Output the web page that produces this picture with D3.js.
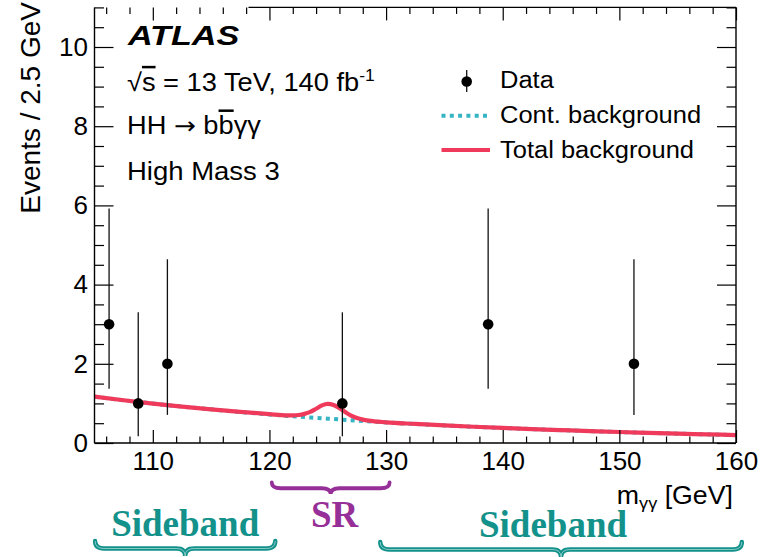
<!DOCTYPE html>
<html>
<head>
<meta charset="utf-8">
<script src="https://cdn.jsdelivr.net/npm/d3@7"></script>
<style>
  html, body { margin: 0; padding: 0; background: #fff; }
  svg { display: block; }
</style>
</head>
<body>
<svg id="chart" width="762" height="557" font-family="Liberation Sans, Arial, Helvetica, sans-serif"></svg>
<script>
// ---- data -------------------------------------------------------------
// Observed events per 2.5 GeV bin (bin centres in GeV) with asymmetric Poisson errors
const dataMass  = [106.25, 108.75, 111.25, 126.25, 138.75, 151.25];
const dataCount = [3, 1, 2, 1, 3, 2];
const dataErrLo = [1.63, 0.83, 1.29, 0.83, 1.63, 1.29];
const dataErrHi = [2.92, 2.30, 2.64, 2.30, 2.92, 2.64];

// Continuum background shape
const contMass  = [105, 107.5, 110, 112.5, 115, 117.5, 120, 122.5, 125, 127.5, 130,
                   132.5, 135, 137.5, 140, 142.5, 145, 147.5, 150, 152.5, 155, 157.5, 160];
const contValue = [1.17, 1.08, 0.995, 0.92, 0.85, 0.78, 0.72, 0.665, 0.615, 0.565, 0.52,
                   0.48, 0.445, 0.41, 0.38, 0.35, 0.325, 0.30, 0.278, 0.256, 0.236, 0.218, 0.20];

// Total background (continuum + single-Higgs peak)
const totalMass  = [105, 107.5, 110, 112.5, 115, 117.5,
                    120, 120.5, 121, 121.5, 122, 122.5, 123, 123.5, 124, 124.5, 125,
                    125.5, 126, 126.5, 127, 127.5, 128, 128.5, 129, 129.5, 130,
                    132.5, 135, 137.5, 140, 142.5, 145, 147.5, 150, 152.5, 155, 157.5, 160];
const totalValue = [1.17, 1.08, 0.995, 0.92, 0.85, 0.785,
                    0.728, 0.715, 0.705, 0.699, 0.699, 0.707, 0.735, 0.785, 0.865, 0.95, 0.99,
                    0.96, 0.88, 0.78, 0.69, 0.63, 0.59, 0.565, 0.548, 0.535, 0.522,
                    0.482, 0.446, 0.411, 0.38, 0.35, 0.325, 0.30, 0.278, 0.256, 0.236, 0.218, 0.20];

// Axis ticks
const xMajorTicks = [110, 120, 130, 140, 150, 160];
const xMinorTicks = d3.range(106, 160.1, 2).filter(v => v % 10 !== 0);
const yMajorTicks = [0, 2, 4, 6, 8, 10];
const yMinorTicks = d3.range(0.5, 11.01, 0.5).filter(v => v % 2 !== 0);

// Mass regions marked below the axis
const regionLabel = ["Sideband", "SR", "Sideband"];
const regionLow   = [105.05, 120.2, 129.5];
const regionHigh  = [120.5, 130.3, 160.5];

// ---- layout -----------------------------------------------------------
const svg = d3.select("#chart");
const plotL = 94.5, plotR = 736, plotT = 7.4, plotB = 443;

const x = d3.scaleLinear().domain([105, 160]).range([plotL, plotR]);
const y = d3.scaleLinear().domain([0, 11]).range([plotB, plotT]);

const pink = "#f03a5c";
const teal = "#35b4c4";
const sideColor = "#13918b";
const srColor = "#962f97";
const sansFont = "Liberation Sans, Arial, Helvetica, sans-serif";
const serifFont = "Liberation Serif, Times New Roman, serif";

// ---- curves -----------------------------------------------------------
svg.append("clipPath").attr("id", "plotclip")
  .append("rect").attr("x", plotL).attr("y", plotT).attr("width", plotR - plotL).attr("height", plotB - plotT);

const curveLine = d3.line().x(d => x(d[0])).y(d => y(d[1])).curve(d3.curveMonotoneX);

const plot = svg.append("g").attr("clip-path", "url(#plotclip)");
plot.append("path")
  .datum(d3.zip(contMass, contValue))
  .attr("d", curveLine)
  .attr("fill", "none").attr("stroke", teal).attr("stroke-width", 4)
  .attr("stroke-dasharray", "4,4.3");
plot.append("path")
  .datum(d3.zip(totalMass, totalValue))
  .attr("d", curveLine)
  .attr("fill", "none").attr("stroke", pink).attr("stroke-width", 4.2)
  .attr("stroke-linejoin", "round");

// ---- axes (ticks point inwards on all four sides) ---------------------
function styleAxis(g) {
  g.attr("font-family", sansFont).attr("font-size", 26);
  g.select(".domain").remove();
  g.selectAll(".tick line").attr("stroke", "#000").attr("stroke-width", 1.2);
  g.selectAll("text").attr("fill", "#000");
}

svg.append("g").attr("transform", `translate(0,${plotB})`)
  .call(d3.axisBottom(x).tickValues(xMajorTicks).tickFormat(d3.format("d"))
        .tickSizeInner(-13).tickSizeOuter(0).tickPadding(8.5))
  .call(styleAxis);
svg.append("g").attr("transform", `translate(0,${plotB})`)
  .call(d3.axisBottom(x).tickValues(xMinorTicks).tickFormat("")
        .tickSizeInner(-6.5).tickSizeOuter(0))
  .call(styleAxis);
svg.append("g").attr("transform", `translate(0,${plotT})`)
  .call(d3.axisTop(x).tickValues(xMajorTicks).tickFormat("")
        .tickSizeInner(-13).tickSizeOuter(0))
  .call(styleAxis);
svg.append("g").attr("transform", `translate(0,${plotT})`)
  .call(d3.axisTop(x).tickValues(xMinorTicks).tickFormat("")
        .tickSizeInner(-6.5).tickSizeOuter(0))
  .call(styleAxis);

svg.append("g").attr("transform", `translate(${plotL},0)`)
  .call(d3.axisLeft(y).tickValues(yMajorTicks).tickFormat(d3.format("d"))
        .tickSizeInner(-19).tickSizeOuter(0).tickPadding(6.5))
  .call(styleAxis);
svg.append("g").attr("transform", `translate(${plotL},0)`)
  .call(d3.axisLeft(y).tickValues(yMinorTicks).tickFormat("")
        .tickSizeInner(-9.5).tickSizeOuter(0))
  .call(styleAxis);
svg.append("g").attr("transform", `translate(${plotR},0)`)
  .call(d3.axisRight(y).tickValues(yMajorTicks).tickFormat("")
        .tickSizeInner(-19).tickSizeOuter(0))
  .call(styleAxis);
svg.append("g").attr("transform", `translate(${plotR},0)`)
  .call(d3.axisRight(y).tickValues(yMinorTicks).tickFormat("")
        .tickSizeInner(-9.5).tickSizeOuter(0))
  .call(styleAxis);

// frame
const frame = svg.append("g").attr("stroke", "#000").attr("stroke-width", 1.4).attr("fill", "none");
frame.append("line").attr("x1", plotL).attr("x2", plotR).attr("y1", plotB).attr("y2", plotB);
frame.append("line").attr("x1", plotL).attr("x2", plotL).attr("y1", plotT).attr("y2", plotB);
frame.append("line").attr("x1", plotR).attr("x2", plotR).attr("y1", plotT).attr("y2", plotB);
frame.append("line").attr("x1", x(118.2)).attr("x2", plotR).attr("y1", plotT).attr("y2", plotT);

// ---- data points -------------------------------------------------------
const pts = d3.range(dataMass.length).map(i => ({
  m: dataMass[i], n: dataCount[i], lo: dataCount[i] - dataErrLo[i], hi: dataCount[i] + dataErrHi[i]
}));
const dp = svg.append("g");
dp.selectAll("line.err").data(pts).join("line")
  .attr("class", "err")
  .attr("x1", d => x(d.m)).attr("x2", d => x(d.m))
  .attr("y1", d => y(d.lo)).attr("y2", d => y(d.hi))
  .attr("stroke", "#111").attr("stroke-width", 1.3);
dp.selectAll("circle").data(pts).join("circle")
  .attr("cx", d => x(d.m)).attr("cy", d => y(d.n)).attr("r", 5.3)
  .attr("fill", "#000");

// ---- labels ------------------------------------------------------------
// text placed at (px, py) and widened horizontally by sx
function label(px, py, size, sx) {
  return svg.append("text")
    .attr("transform", `translate(${px},${py}) scale(${sx},1)`)
    .attr("font-family", sansFont).attr("font-size", size).attr("fill", "#000");
}

label(128, 45, 28, 1.22).attr("font-weight", "bold").attr("font-style", "italic").text("ATLAS");

const t1 = label(127, 90.7, 25, 1.09);
t1.append("tspan").text("√");
t1.append("tspan").attr("text-decoration", "overline").text("s");
t1.append("tspan").text(" = 13 TeV, 140 fb");
t1.append("tspan").attr("font-size", 16).attr("dy", -10).text("-1");

const t2 = label(127, 134.3, 25, 1.09);
t2.append("tspan").text("HH ");
t2.append("tspan").attr("font-family", "DejaVu Sans").attr("font-size", 24).text("→");
t2.append("tspan").text(" b");
t2.append("tspan").attr("text-decoration", "overline").text("b");
t2.append("tspan").text("γγ");

label(127, 179.5, 25, 1.1).text("High Mass 3");

// legend
const lg = svg.append("g");
lg.append("line").attr("x1", 466.7).attr("x2", 466.7).attr("y1", 70).attr("y2", 92)
  .attr("stroke", "#111").attr("stroke-width", 1.3);
lg.append("circle").attr("cx", 466.7).attr("cy", 81.5).attr("r", 5.3).attr("fill", "#000");
lg.append("line").attr("x1", 441.5).attr("x2", 489).attr("y1", 115.7).attr("y2", 115.7)
  .attr("stroke", teal).attr("stroke-width", 4).attr("stroke-dasharray", "4,4.3");
lg.append("line").attr("x1", 441.5).attr("x2", 490).attr("y1", 150).attr("y2", 150)
  .attr("stroke", pink).attr("stroke-width", 4.2);
const legendText = ["Data", "Cont. background", "Total background"];
legendText.forEach((t, i) => label(500, 88.3 + i * 34.7, 23.5, 1.085).text(t));

// axis titles
const xt = label(733, 504, 25, 1.07).attr("text-anchor", "end");
xt.append("tspan").text("m");
xt.append("tspan").attr("font-size", 17).attr("dy", 5).text("γγ");
xt.append("tspan").attr("dy", -5).text(" [GeV]");

svg.append("text").attr("transform", "translate(40,2) rotate(-90)")
  .attr("font-family", sansFont).attr("font-size", 28).attr("text-anchor", "end")
  .text("Events / 2.5 GeV");

// ---- region braces -----------------------------------------------------
function bracePath(x0, x1, y0, depth, r) {
  const xm = (x0 + x1) / 2, ym = y0 + depth * 0.5, yc = y0 + depth;
  return `M${x0},${y0} Q${x0},${ym} ${x0 + r},${ym} L${xm - r},${ym} ` +
         `Q${xm},${ym} ${xm},${yc} Q${xm},${ym} ${xm + r},${ym} ` +
         `L${x1 - r},${ym} Q${x1},${ym} ${x1},${y0}`;
}
const regionLayout = [
  { yTop: 541, depth: 15, textY: 535.5, dx: 0, color: sideColor, width: 4.4 },
  { yTop: 482.5, depth: 11.5, textY: 527, dx: 4, color: srColor, width: 3.8 },
  { yTop: 542, depth: 15, textY: 537, dx: -8, color: sideColor, width: 4.4 }
];
regionLabel.forEach((lab, i) => {
  const L = regionLayout[i];
  const x0 = x(regionLow[i]), x1 = x(regionHigh[i]);
  const g = svg.append("g");
  g.append("path").attr("d", bracePath(x0, x1, L.yTop, L.depth, 9))
    .attr("fill", "none").attr("stroke", L.color).attr("stroke-width", L.width)
    .attr("stroke-linecap", "round");
  if (lab === "Sideband") {
    g.append("path").attr("d", bracePath(x0, x1, L.yTop, L.depth, 9))
      .attr("fill", "none").attr("stroke", "#b9e0dc").attr("stroke-width", 0.7);
  }
  g.append("text").attr("x", (x0 + x1) / 2 + L.dx).attr("y", L.textY)
    .attr("text-anchor", "middle")
    .attr("font-family", serifFont)
    .attr("font-weight", "bold").attr("font-size", 37)
    .attr("fill", L.color).text(lab);
});
</script>
</body>
</html>
